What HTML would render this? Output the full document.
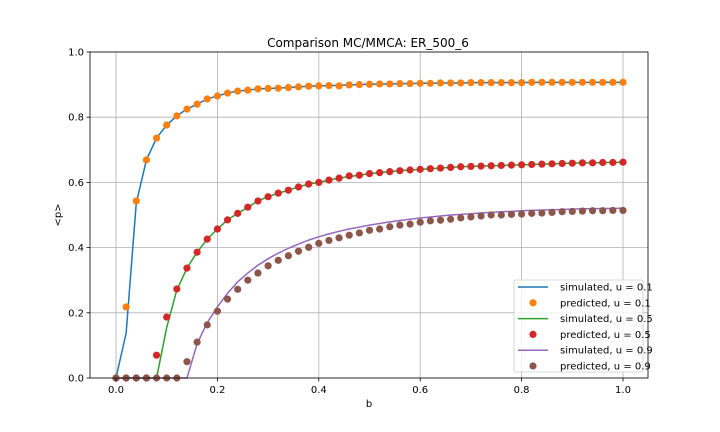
<!DOCTYPE html>
<html><head><meta charset="utf-8"><style>
body{margin:0;background:#fff}
svg{display:block;font-family:"DejaVu Sans","Liberation Sans",sans-serif}
</style></head><body>
<svg id="chart" width="720" height="432">
<text x="368" y="47" text-anchor="middle" font-size="12">Comparison MC/MMCA: ER_500_6</text>
<g id="grid"></g><g id="marks"></g><g id="axes"></g><g id="legend"></g>
</svg>
<script>
const bVals=[];for(let i=0;i<=50;i++)bVals.push(i/50);
const xTicks=[0,0.2,0.4,0.6,0.8,1.0];
const xTickLabels=["0.0","0.2","0.4","0.6","0.8","1.0"];
const yTicks=[0,0.2,0.4,0.6,0.8,1.0];
const yTickLabels=["0.0","0.2","0.4","0.6","0.8","1.0"];
const predU01=[0,0.218,0.543,0.669,0.736,0.776,0.804,0.825,0.84,0.856,0.865,0.874,0.88,0.883,0.887,0.888,0.889,0.891,0.893,0.895,0.896,0.897,0.896,0.899,0.9,0.901,0.902,0.902,0.903,0.903,0.904,0.904,0.905,0.905,0.905,0.906,0.906,0.906,0.906,0.906,0.906,0.907,0.907,0.907,0.907,0.907,0.907,0.907,0.907,0.907,0.907];
const simU01=[0,0.138,0.537,0.669,0.736,0.776,0.804,0.825,0.84,0.856,0.865,0.874,0.88,0.883,0.887,0.888,0.889,0.891,0.893,0.895,0.896,0.897,0.898,0.899,0.9,0.901,0.902,0.902,0.903,0.903,0.904,0.904,0.905,0.905,0.905,0.906,0.906,0.906,0.906,0.906,0.906,0.907,0.907,0.907,0.907,0.907,0.907,0.907,0.907,0.907,0.907];
const predU05=[0,0,0,0,0.07,0.187,0.273,0.337,0.386,0.426,0.457,0.485,0.505,0.524,0.543,0.556,0.567,0.576,0.586,0.595,0.6,0.607,0.613,0.62,0.622,0.627,0.63,0.633,0.636,0.638,0.64,0.642,0.644,0.646,0.648,0.649,0.65,0.651,0.652,0.653,0.654,0.655,0.656,0.657,0.658,0.659,0.66,0.66,0.661,0.661,0.662];
const simU05=[0,0,0,0,0,0.155,0.27,0.337,0.386,0.426,0.457,0.485,0.505,0.524,0.543,0.556,0.567,0.576,0.586,0.595,0.6,0.607,0.613,0.618,0.622,0.627,0.63,0.633,0.636,0.638,0.64,0.642,0.644,0.646,0.648,0.649,0.65,0.651,0.652,0.653,0.654,0.655,0.656,0.657,0.658,0.659,0.66,0.66,0.661,0.661,0.662];
const predU09=[0,0,0,0,0,0,0,0.05,0.11,0.163,0.205,0.242,0.272,0.3,0.322,0.344,0.361,0.375,0.389,0.401,0.413,0.422,0.43,0.438,0.445,0.453,0.457,0.464,0.469,0.472,0.478,0.482,0.484,0.487,0.491,0.494,0.497,0.5,0.5,0.502,0.503,0.505,0.506,0.508,0.51,0.511,0.512,0.513,0.513,0.514,0.514];
const simU09=[0,0,0,0,0,0,0,0,0.105,0.17,0.218,0.26,0.295,0.322,0.346,0.366,0.383,0.398,0.411,0.423,0.433,0.442,0.45,0.457,0.463,0.469,0.474,0.479,0.483,0.487,0.491,0.494,0.497,0.5,0.502,0.504,0.506,0.508,0.51,0.511,0.513,0.514,0.515,0.516,0.517,0.518,0.519,0.519,0.52,0.52,0.521];

const NS="http://www.w3.org/2000/svg";
const L=90,R=648,T=52,B=378;
const xs=v=>116+v*507;
const ys=v=>B-v*(B-T);
function mk(tag,attrs,parent){const e=document.createElementNS(NS,tag);for(const k in attrs)e.setAttribute(k,attrs[k]);parent.appendChild(e);return e;}
const grid=document.getElementById('grid'),marks=document.getElementById('marks'),axes=document.getElementById('axes'),leg=document.getElementById('legend');
xTicks.forEach((t,i)=>{
  const g=mk('line',{x1:xs(t),x2:xs(t),y1:T,y2:B,stroke:'#b0b0b0','stroke-width':0.8},grid);
  
  
  mk('line',{x1:xs(t),x2:xs(t),y1:B,y2:B+3.5,stroke:'#000','stroke-width':0.8},axes);
  const tx=mk('text',{x:xs(t),y:B+15,'text-anchor':'middle','font-size':10},axes);tx.textContent=xTickLabels[i];
  
  
});
yTicks.forEach((t,i)=>{
  const g=mk('line',{x1:L,x2:R,y1:ys(t),y2:ys(t),stroke:'#b0b0b0','stroke-width':0.8},grid);
  
  
  mk('line',{x1:L-3.5,x2:L,y1:ys(t),y2:ys(t),stroke:'#000','stroke-width':0.8},axes);
  const tx=mk('text',{x:L-6,y:ys(t)+3.5,'text-anchor':'end','font-size':10},axes);tx.textContent=yTickLabels[i];
  
  
});
const fr=mk('rect',{x:L,y:T,width:R-L,height:B-T,fill:'none',stroke:'#000','stroke-width':0.8},axes);


const xl=mk('text',{x:369,y:407,'text-anchor':'middle','font-size':10},axes);xl.textContent='b';


const yl=mk('text',{x:0,y:0,'text-anchor':'middle','font-size':10,transform:'translate(61,215) rotate(-90)'},axes);yl.textContent='<p>';



const series=[
 {sim:simU01,pred:predU01,lc:'#1f77b4',pc:'#ff7f0e',u:'0.1'},
 {sim:simU05,pred:predU05,lc:'#2ca02c',pc:'#d62728',u:'0.5'},
 {sim:simU09,pred:predU09,lc:'#9467bd',pc:'#8c564b',u:'0.9'}];
series.forEach(s=>{
  const pts=bVals.map((b,i)=>xs(b)+','+ys(s.sim[i])).join(' ');
  const pl=mk('polyline',{points:pts,fill:'none',stroke:s.lc,'stroke-width':1.5},marks);
  
  
  bVals.forEach((b,i)=>{
    const c=mk('circle',{cx:xs(b),cy:ys(s.pred[i]),r:3.6,fill:s.pc},marks);
    
    
  });
});
const lb=mk('rect',{x:514,y:280,width:129,height:92,rx:2,fill:'#fff','fill-opacity':0.8,stroke:'#ccc','stroke-width':0.8},leg);


let ly=287;
series.forEach(s=>{
  const l=mk('line',{x1:518,x2:548,y1:ly,y2:ly,stroke:s.lc,'stroke-width':1.5},leg);
  
  
  const t=mk('text',{x:560,y:ly+3.5,'font-size':10},leg);t.textContent='simulated, u = '+s.u;
  
  
  ly+=15.8;
  const c=mk('circle',{cx:533,cy:ly,r:3.6,fill:s.pc},leg);
  
  
  const t2=mk('text',{x:560,y:ly+3.5,'font-size':10},leg);t2.textContent='predicted, u = '+s.u;
  
  
  ly+=15.8;
});
</script>
</body></html>
